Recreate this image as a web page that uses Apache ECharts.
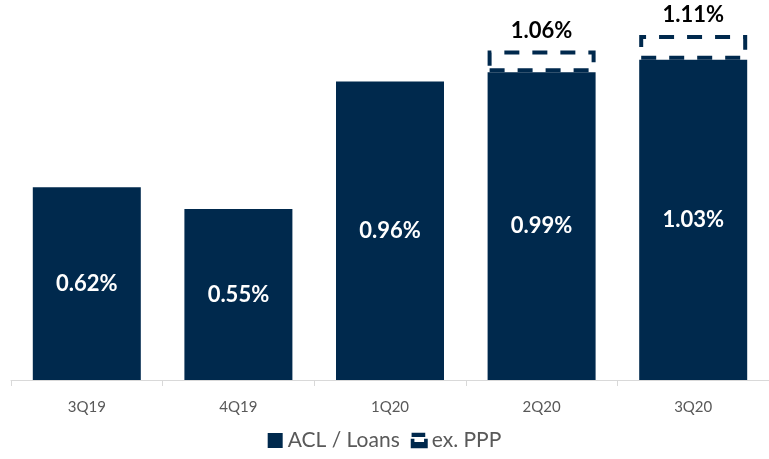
<!DOCTYPE html>
<html><head><meta charset="utf-8">
<script src="https://cdn.jsdelivr.net/npm/echarts@6/dist/echarts.min.js"></script>
<style>html,body{margin:0;padding:0;background:#fff}#c{width:769px;height:459px}</style>
</head><body><div id="c"></div>
<script>
const categories = ['3Q19', '4Q19', '1Q20', '2Q20', '3Q20'];
const aclLoans = [0.62, 0.55, 0.96, 0.99, 1.03];
const exPPP = [null, null, null, 1.06, 1.11];
const NAVY = '#00294d';
const chart = echarts.init(document.getElementById('c'));
const diff = exPPP.map((v, i) => v == null ? null : +(v - aclLoans[i]).toFixed(4));
chart.setOption({
  animation: false,
  textStyle: { fontFamily: 'Lato' },
  grid: { left: 11, width: 776, top: 7, bottom: 79 },
  legend: {
    bottom: 3, left: 'center', itemGap: 11, itemWidth: 15, itemHeight: 15,
    textStyle: { color: '#595959', fontSize: 21, fontFamily: 'Lato' },
    data: [
      { name: 'ACL / Loans', icon: 'rect' },
      { name: 'ex. PPP', icon: 'path://M1,0H15V2.5H1Z M0,7H2V11H16V7H18V16H0Z', itemStyle: { color: NAVY } }
    ]
  },
  xAxis: {
    type: 'category', data: categories,
    axisLine: { lineStyle: { color: '#d9d9d9', width: 1 } },
    axisTick: { show: true, length: 6, lineStyle: { color: '#d9d9d9' } },
    axisLabel: { color: '#595959', fontSize: 15, margin: 20 }
  },
  yAxis: { type: 'value', min: 0, max: 1.2, show: false, splitLine: { show: false } },
  series: [
    {
      name: 'ACL / Loans', type: 'bar', stack: 's', barWidth: 108,
      data: aclLoans, itemStyle: { color: NAVY },
      label: { show: true, position: 'inside', color: '#fff', fontSize: 22, fontWeight: 'bold', formatter: p => p.value.toFixed(2) + '%' }
    },
    {
      name: 'ex. PPP', type: 'bar', stack: 's', barWidth: 108,
      data: diff,
      itemStyle: { color: 'rgba(255,255,255,0)', borderColor: NAVY, borderWidth: 4, borderType: [15, 13] },
      label: { show: true, position: 'top', distance: 9, color: '#000', fontSize: 22, fontWeight: 'bold',
        formatter: p => exPPP[p.dataIndex] == null ? '' : exPPP[p.dataIndex].toFixed(2) + '%' }
    }
  ]
});
</script></body></html>
